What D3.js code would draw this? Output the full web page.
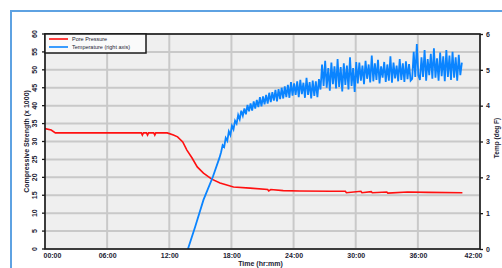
<!DOCTYPE html>
<html>
<head>
<meta charset="utf-8">
<script src="https://cdn.jsdelivr.net/npm/d3@7"></script>
<style>
  body { margin: 0; background: #fff; }
  svg text { font-family: "Liberation Sans", Arial, sans-serif; fill: #1c2233; }
</style>
</head>
<body>
<div id="wrapper"></div>
<script>
// ---- data ----
const xTickHours = [0, 6, 12, 18, 24, 30, 36, 42]
const xTickLabels = ["00:00", "06:00", "12:00", "18:00", "24:00", "30:00", "36:00", "42:00"]
const leftTicks = [0, 5, 10, 15, 20, 25, 30, 35, 40, 45, 50, 55, 60]
const rightTicks = [0, 1, 2, 3, 4, 5, 6]

// red series, left axis
const redHours = [0, 0.6, 1.0, 9.3, 9.4, 9.5, 9.8, 9.9, 10.0, 10.5, 10.6, 10.7, 11.8, 12.4, 12.8, 13.3, 13.7, 14.2, 14.7, 15.3, 16.1, 16.9, 18.2, 19.8, 21.5, 21.6, 21.8, 23.0, 24.6, 27.5, 29.0, 29.1, 30.5, 30.6, 31.5, 31.6, 33.0, 33.1, 35.0, 37.0, 40.3]
const redValues = [33.6, 33.2, 32.4, 32.4, 31.8, 32.4, 32.4, 31.8, 32.4, 32.4, 31.8, 32.4, 32.4, 31.8, 31.3, 29.9, 27.6, 25.4, 22.9, 21.2, 19.5, 18.4, 17.3, 17.0, 16.6, 16.2, 16.6, 16.3, 16.2, 16.1, 16.1, 15.7, 16.1, 15.7, 16.0, 15.7, 15.9, 15.6, 15.9, 15.8, 15.7]

// blue series, right axis: ramp, then logger samples every 0.15 h from 17.0 h
const blueRampHours = [13.8, 14.5, 15.3, 16.2, 16.85]
const blueRampValues = [0, 0.62, 1.37, 2.01, 2.55]
const blueLogStart = 17.0
const blueLogStep = 0.15
const blueLogValues = [
  2.70, 2.90, 2.85, 3.10, 3.02, 3.28, 3.18, 3.44, 3.34, 3.58,
  3.50, 3.74, 3.62, 3.86, 3.72, 3.92, 3.76, 4.02, 3.84, 4.06,
  3.86, 4.12, 3.92, 4.16, 3.96, 4.24, 3.98, 4.26, 4.04, 4.30,
  4.06, 4.36, 4.10, 4.38, 4.14, 4.44, 4.12, 4.46, 4.18, 4.50,
  4.20, 4.54, 4.24, 4.58, 4.22, 4.66, 4.28, 4.62, 4.30, 4.68,
  4.24, 4.72, 4.32, 4.64, 4.22, 4.78, 4.30, 4.66, 4.20, 4.70,
  4.27, 4.68, 4.24, 4.74,
  4.45, 5.15, 4.55, 5.25, 4.50, 5.05, 4.42, 5.20, 4.60, 5.10,
  4.48, 5.30, 4.52, 5.08, 4.40, 5.18, 4.58, 5.12, 4.45, 5.35,
  4.55, 5.05, 4.38, 5.22,
  4.62, 5.20, 4.70, 5.12, 4.60, 5.25, 4.75, 5.15, 4.65, 5.40,
  4.68, 5.18, 4.72, 5.28, 4.62, 5.10, 4.78, 5.22, 4.66, 5.15,
  4.70, 5.38, 4.64, 5.20, 4.76, 5.12, 4.68, 5.30, 4.72, 5.18,
  4.66, 5.24, 4.74, 5.16, 4.70,
  4.75, 5.50, 4.80, 5.72, 4.85,
  4.72, 5.35, 4.80, 5.55, 4.70, 5.30, 4.85, 5.45, 4.75, 5.60,
  4.78, 5.32, 4.70, 5.48, 4.82, 5.38, 4.68, 5.55, 4.80, 5.40,
  4.72, 5.50, 4.78, 5.35, 4.70, 5.42, 4.85, 5.20
]

const legendLabels = ["Pore Pressure", "Temperature (right axis)"]
const seriesColors = ["#ff1010", "#0a84ff"]

// ---- dimensions ----
const width = 502, height = 268
const plot = { left: 45, right: 480, top: 34, bottom: 249 }

const svg = d3.select("#wrapper").append("svg")
    .attr("width", width)
    .attr("height", height)

// outer frame
svg.append("path")
    .attr("d", `M11,${height} V11 H${width}`)
    .attr("fill", "none")
    .attr("stroke", "#5ea2e2")
    .attr("stroke-width", 2)

// ---- scales ----
const x = d3.scaleLinear().domain([0, 42]).range([plot.left, plot.right])
const yLeft = d3.scaleLinear().domain([0, 60]).range([plot.bottom, plot.top])
const yRight = d3.scaleLinear().domain([0, 6]).range([plot.bottom, plot.top])

const clipId = "plot-clip"
svg.append("defs").append("clipPath").attr("id", clipId)
  .append("rect")
    .attr("x", plot.left).attr("y", plot.top)
    .attr("width", plot.right - plot.left).attr("height", plot.bottom - plot.top)

svg.append("rect")
    .attr("x", plot.left).attr("y", plot.top)
    .attr("width", plot.right - plot.left).attr("height", plot.bottom - plot.top)
    .attr("fill", "#efefef")

// grid
svg.append("g").selectAll("line")
  .data(leftTicks)
  .join("line")
    .attr("x1", plot.left).attr("x2", plot.right)
    .attr("y1", d => yLeft(d)).attr("y2", d => yLeft(d))
    .attr("stroke", "#c9c9c9").attr("stroke-width", 2)

svg.append("g").selectAll("line")
  .data(xTickHours)
  .join("line")
    .attr("x1", d => x(d)).attr("x2", d => x(d))
    .attr("y1", plot.top).attr("y2", plot.bottom)
    .attr("stroke", "#c9c9c9").attr("stroke-width", 2)

// ---- lines ----
const redData = redHours.map((h, i) => [h, redValues[i]])
const blueData = blueRampHours.map((h, i) => [h, blueRampValues[i]])
  .concat(blueLogValues.map((v, i) => [blueLogStart + i * blueLogStep, v]))

const lines = svg.append("g").attr("clip-path", `url(#${clipId})`)

lines.append("path")
    .attr("d", d3.line().x(d => x(d[0])).y(d => yLeft(d[1]))(redData))
    .attr("fill", "none")
    .attr("stroke", seriesColors[0])
    .attr("stroke-width", 1.6)

lines.append("path")
    .attr("d", d3.line().x(d => x(d[0])).y(d => yRight(d[1]))(blueData))
    .attr("fill", "none")
    .attr("stroke", seriesColors[1])
    .attr("stroke-width", 1.8)

// ---- border & axes ----
svg.append("rect")
    .attr("x", plot.left).attr("y", plot.top)
    .attr("width", plot.right - plot.left).attr("height", plot.bottom - plot.top)
    .attr("fill", "none").attr("stroke", "#1a1a1a").attr("stroke-width", 1.6)

const leftAxis = svg.append("g")
    .attr("transform", `translate(${plot.left},0)`)
    .call(d3.axisLeft(yLeft).tickValues(leftTicks).tickSize(3).tickFormat(d3.format("d")))
leftAxis.select(".domain").remove()
leftAxis.selectAll("line").attr("stroke", "#1a1a1a").attr("stroke-width", 1.3)
leftAxis.selectAll("text")
    .attr("x", 0).attr("dy", 0)
    .attr("transform", d => `translate(-8,${yLeft(d)}) rotate(-90)`)
    .attr("y", 0)
    .attr("text-anchor", "middle")
    .attr("font-size", 7).attr("font-weight", "bold")
    .attr("fill", "#1c2233")
leftAxis.selectAll(".tick").attr("transform", null)
leftAxis.selectAll(".tick line").attr("y1", d => yLeft(d)).attr("y2", d => yLeft(d))

const rightAxis = svg.append("g")
    .attr("transform", `translate(${plot.right},0)`)
    .call(d3.axisRight(yRight).tickValues(rightTicks).tickSize(3).tickFormat(d3.format("d")))
rightAxis.select(".domain").remove()
rightAxis.selectAll("line").attr("stroke", "#1a1a1a").attr("stroke-width", 1.3)
rightAxis.selectAll("text")
    .attr("x", 6).attr("font-size", 7).attr("font-weight", "bold")
    .attr("fill", "#1c2233")

const bottomAxis = svg.append("g")
    .attr("transform", `translate(0,${plot.bottom})`)
    .call(d3.axisBottom(x).tickValues(xTickHours).tickSize(0).tickFormat((d, i) => xTickLabels[i]))
bottomAxis.select(".domain").remove()
bottomAxis.selectAll("text")
    .attr("y", 4).attr("dy", "0.71em")
    .attr("font-size", 7).attr("font-weight", "bold")
    .attr("fill", "#1c2233")
    .attr("text-anchor", (d, i) => i === 0 ? "start" : i === xTickHours.length - 1 ? "end" : "middle")
    .attr("dx", (d, i) => i === 0 ? -2 : i === xTickHours.length - 1 ? 2 : 0)

// axis titles
svg.append("text")
    .attr("x", (plot.left + plot.right) / 2 - 2).attr("y", 266)
    .attr("text-anchor", "middle")
    .attr("font-size", 7).attr("font-weight", "bold")
    .text("Time (hr:mm)")

svg.append("text")
    .attr("transform", `translate(29,${(plot.top + plot.bottom) / 2}) rotate(-90)`)
    .attr("text-anchor", "middle")
    .attr("font-size", 7).attr("font-weight", "bold")
    .text("Compressive Strength (x 1000)")

svg.append("text")
    .attr("transform", `translate(499,138) rotate(-90)`)
    .attr("text-anchor", "middle")
    .attr("font-size", 6.5).attr("font-weight", "bold")
    .text("Temp (deg F)")

// legend
const legend = svg.append("g").attr("transform", `translate(${plot.left},${plot.top})`)
legend.append("rect")
    .attr("width", 101).attr("height", 19)
    .attr("fill", "#fafafa").attr("stroke", "#1a1a1a").attr("stroke-width", 1.5)
const legendRows = legend.selectAll(".row")
  .data(legendLabels)
  .join("g")
    .attr("transform", (d, i) => `translate(0,${5 + i * 8})`)
legendRows.append("line")
    .attr("x1", 4).attr("x2", 23)
    .attr("stroke", (d, i) => seriesColors[i]).attr("stroke-width", 1.6)
legendRows.append("text")
    .attr("x", 27).attr("dy", "0.35em")
    .attr("font-size", 5.5)
    .text(d => d)
</script>
</body>
</html>
